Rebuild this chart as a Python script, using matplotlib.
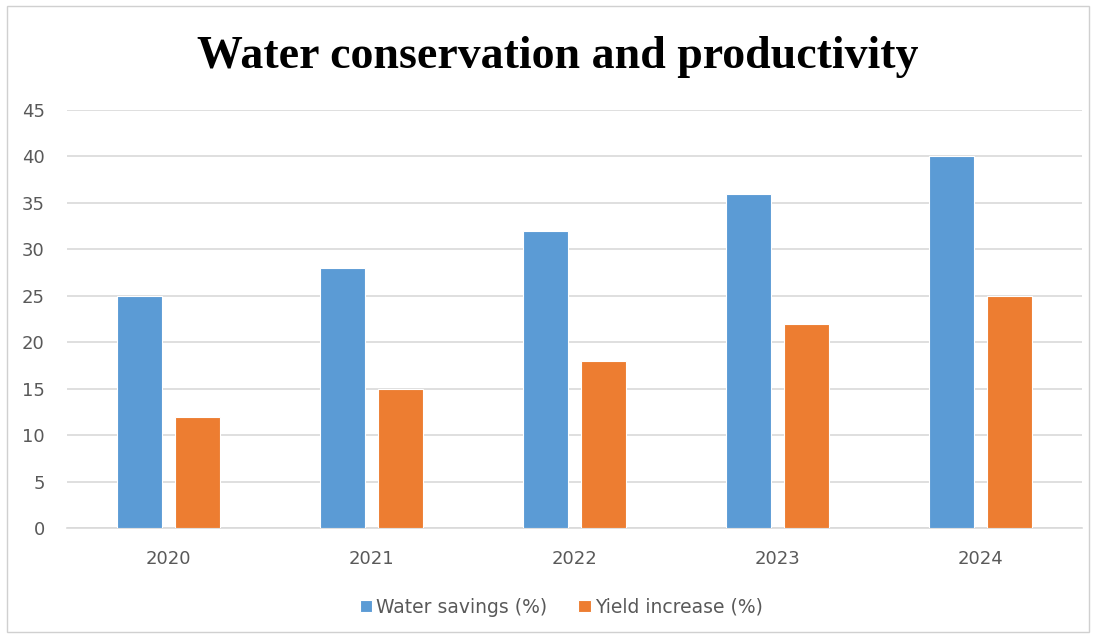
import matplotlib
matplotlib.use("Agg")
from matplotlib import pyplot as plt
from matplotlib.patches import Rectangle
import numpy as np

years = ["2020", "2021", "2022", "2023", "2024"]
water_savings = [25, 28, 32, 36, 40]
yield_increase = [12, 15, 18, 22, 25]

blue = "#5B9BD5"
orange = "#ED7D31"
grid_col = "#D9D9D9"
text_col = "#595959"

fig = plt.figure(figsize=(10.96, 6.37), dpi=100)
ax = fig.add_axes([0.0611, 0.1711, 0.9260, 0.6562])

x = np.arange(len(years))
w = 0.225
off = 0.143
ax.bar(x - off, water_savings, w, color=blue, edgecolor="white", linewidth=0.8,
       label="Water savings (%)", zorder=3)
ax.bar(x + off, yield_increase, w, color=orange, edgecolor="white", linewidth=0.8,
       label="Yield increase (%)", zorder=3)

ax.set_xlim(-0.5, len(years) - 0.5)
ax.set_ylim(0, 45)
ax.set_yticks(np.arange(0, 46, 5))
ax.set_xticks(x)
ax.set_xticklabels(years)
ax.yaxis.grid(True, color=grid_col, linewidth=1.2, zorder=0)
ax.set_axisbelow(True)
for s in ["top", "right", "left"]:
    ax.spines[s].set_visible(False)
ax.spines["bottom"].set_color(grid_col)
ax.spines["bottom"].set_linewidth(1.2)
ax.tick_params(axis="both", length=0, labelsize=13, colors=text_col)
ax.tick_params(axis="x", pad=16)
ax.tick_params(axis="y", pad=16)

fig.text(0.509, 0.91, "Water conservation and productivity", ha="center", va="center",
         fontsize=33, fontweight="bold", family="Liberation Serif", color="black")

leg = fig.legend(loc="center", bbox_to_anchor=(0.512, 0.047), ncol=2, frameon=False,
                 fontsize=13.5, handlelength=0.68, handleheight=0.68, handletextpad=0.2,
                 columnspacing=1.65)
for t in leg.get_texts():
    t.set_color(text_col)

# light frame round the whole chart area
fig.patches.append(Rectangle((0.006, 0.008), 0.988, 0.982, transform=fig.transFigure,
                             fill=False, edgecolor="#D0D0D0", linewidth=1.0))

fig.savefig("out.png", dpi=100)
